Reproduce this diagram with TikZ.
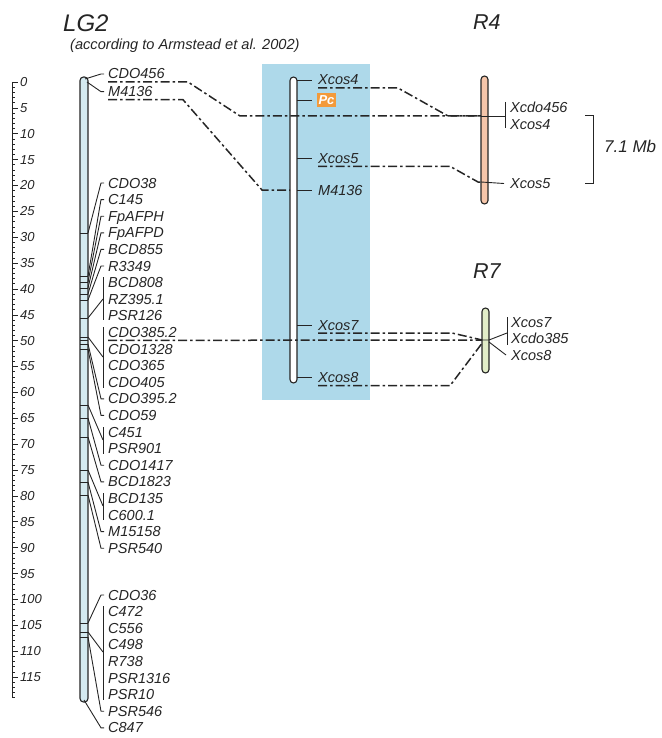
\documentclass[tikz,border=0pt]{standalone}
\usepackage{fontspec}
\setmainfont{Liberation Sans}
\usetikzlibrary{calc}
\definecolor{lc}{HTML}{252525}
\definecolor{boxblue}{HTML}{AED9EA}
\definecolor{lgfill}{HTML}{D4EAF0}
\definecolor{rfour}{HTML}{F6C6AA}
\definecolor{rseven}{HTML}{E2EDC8}
\definecolor{pcor}{HTML}{F39A3A}
\tikzset{
 lbl/.style={anchor=base west, inner sep=0pt, font=\fontsize{14.5}{16}\selectfont\itshape, text=lc},
 conn/.style={draw=lc, line width=0.9pt},
 dd/.style={draw=lc, line width=1.5pt, dash pattern=on 9pt off 3pt on 2.5pt off 3pt},
 chrom/.style={draw=lc, line width=1.1pt, rounded corners=3.5pt},
 num/.style={anchor=west, inner sep=0pt, font=\fontsize{13}{15}\selectfont\itshape, text=lc},
 ttl/.style={anchor=base west, inner sep=0pt, text=lc},
}
\newcommand{\lgsingle}[4]{%
  \node[lbl] (#1) at (108,#3) {#2};
  \coordinate (#1c) at (88,#4);
  \draw[conn] (#1c) -- ([shift={(-7pt,5pt)}]#1.base west) -- ([shift={(-4pt,5pt)}]#1.base west);
}
\newcommand{\lgplain}[3]{%
  \node[lbl] (#1) at (108,#3) {#2};
}
\newcommand{\lggroup}[5]{%
  \coordinate (#1c) at (88,#4);
  \coordinate (#1t) at (103,#2);
  \coordinate (#1b) at (103,#3);
  \coordinate (#1m) at (103,#5);
  \draw[conn] (#1t) -- (#1b);
  \draw[conn] (#1c) -- (#1m);
}
\begin{document}
\begin{tikzpicture}[x=1pt,y=-1pt]
\useasboundingbox (0,0) rectangle (661,738);
% background box
\fill[boxblue] (262,64) rectangle (370,400);
% titles
\node[ttl, font=\fontsize{24}{26}\selectfont\itshape] (tlg) at (63,31.7) {LG2};
\node[ttl, font=\fontsize{14.6}{16}\selectfont\itshape] (tsub) at (70,49.5) {(according to Armstead et al. 2002)};
\node[ttl, font=\fontsize{21.5}{24}\selectfont\itshape] (tr4) at (473,30) {R4};
\node[ttl, font=\fontsize{21.5}{24}\selectfont\itshape] (tr7) at (473,278) {R7};
% ruler
\draw[conn] (12,82) -- (12,697.7);
\foreach \i in {0,...,119}{
  \pgfmathsetmacro\yy{82+5.174*\i}
  \pgfmathsetmacro\tl{ifthenelse(mod(\i,5)==0,5.5,3)}
  \draw[conn, line width=0.6pt] (12,\yy) -- ++(\tl,0);
}
\foreach \i in {0,5,...,115}{
  \pgfmathsetmacro\yy{82+5.174*\i}
  \node[num] (s\i) at (20,\yy) {\i};
}
% LG2 chromosome
\draw[chrom, fill=lgfill] (80,77) rectangle (88,702);
\foreach \t in {233,276,282,288,294,300,318,337,340,344,349,405,418,437,470,482,495,623,632,637}{
  \draw[lc, line width=0.7pt] (80,\t) -- (88,\t);
}
% LG2 labels
\node[lbl] (cdo456) at (108,79) {CDO456};
\coordinate (cdo456c) at (85,79);
\draw[conn] (cdo456c) -- ([shift={(-7pt,5pt)}]cdo456.base west) -- ([shift={(-4pt,5pt)}]cdo456.base west);
\node[lbl] (m4136a) at (108,96.7) {M4136};
\coordinate (m4136ac) at (87,82);
\draw[conn] (m4136ac) -- ([shift={(-7pt,5pt)}]m4136a.base west) -- ([shift={(-4pt,5pt)}]m4136a.base west);
\lgsingle{cdo38}{CDO38}{188}{233}
\lgsingle{c145}{C145}{204.6}{276}
\lgsingle{fpafph}{FpAFPH}{221.2}{282}
\lgsingle{fpafpd}{FpAFPD}{237.8}{288}
\lgsingle{bcd855}{BCD855}{254.4}{294}
\lgsingle{r3349}{R3349}{271}{300}
\lgplain{bcd808}{BCD808}{287.6}
\lgplain{rz395}{RZ395.1}{304.2}
\lgplain{psr126}{PSR126}{320.8}
\lggroup{ga}{277}{320}{318}{299}
\lgplain{cdo385}{CDO385.2}{337.4}
\lgplain{cdo1328}{CDO1328}{354}
\lgplain{cdo365}{CDO365}{370.6}
\lgplain{cdo405}{CDO405}{387.2}
\lggroup{gb}{327}{388}{337}{357}
\lgsingle{cdo395}{CDO395.2}{403.8}{344}
\lgsingle{cdo59}{CDO59}{420.4}{349}
\lgplain{c451}{C451}{437}
\lgplain{psr901}{PSR901}{453.6}
\lggroup{gc}{427}{454}{405}{440}
\lgsingle{cdo1417}{CDO1417}{470.2}{418}
\lgsingle{bcd1823}{BCD1823}{486.8}{437}
\lgplain{bcd135}{BCD135}{503.4}
\lgplain{c600}{C600.1}{520}
\lggroup{gd}{493}{520}{470}{506}
\lgsingle{m15158}{M15158}{536.6}{482}
\lgsingle{psr540}{PSR540}{553.2}{495}
\lgsingle{cdo36}{CDO36}{600}{623}
\lgplain{c472}{C472}{616.6}
\lgplain{c556}{C556}{633.2}
\lgplain{c498}{C498}{649.8}
\lgplain{r738}{R738}{666.4}
\lgplain{psr1316}{PSR1316}{683}
\lgplain{psr10}{PSR10}{699.6}
\lggroup{ge}{606}{700}{632}{652}
\lgsingle{psr546}{PSR546}{716.2}{637}
\node[lbl] (c847) at (108,732.8) {C847};
\coordinate (c847c) at (84,700);
\draw[conn] (c847c) -- ([shift={(-7pt,5pt)}]c847.base west) -- ([shift={(-4pt,5pt)}]c847.base west);
% middle chromosome
\draw[chrom, fill=white] (290,77) rectangle (297,383);
\node[lbl] (xcos4m) at (318,85) {Xcos4};
\node[fill=pcor, text=white, inner sep=0pt, minimum width=19.5pt, minimum height=13.5pt, font=\fontsize{13}{15}\selectfont\bfseries\itshape] (pc) at (326.5,100) {Pc};
\node[lbl] (xcos5m) at (318,163.3) {Xcos5};
\node[lbl] (m4136m) at (318,195) {M4136};
\node[lbl] (xcos7m) at (318,330) {Xcos7};
\node[lbl] (xcos8m) at (318,382.7) {Xcos8};
\foreach \n in {xcos4m,xcos5m,m4136m,xcos7m,xcos8m}{
  \draw[conn] ([shift={(-21pt,5pt)}]\n.base west) -- ([shift={(-6pt,5pt)}]\n.base west);
}
\draw[conn] ([xshift=-20pt]pc.west) -- ([xshift=-5pt]pc.west);
% R4 chromosome
\draw[chrom, fill=rfour] (481,76) rectangle (488,204);
\node[lbl] (xcdo456r) at (510,113) {Xcdo456};
\node[lbl] (xcos4r) at (510,130) {Xcos4};
\node[lbl] (xcos5r) at (510,188.5) {Xcos5};
\coordinate (r4a) at (481,116);
\coordinate (r4b) at (481,182);
\draw[conn] (505,102) -- (505,128);
\draw[conn] (r4a) -- (505,116);
\draw[conn] (r4b) -- ([shift={(-6pt,5pt)}]xcos5r.base west);
% bracket
\draw[conn] (585,115) -- (593,115) -- (593,183) -- (585,183);
\node[ttl, font=\fontsize{17}{19}\selectfont\itshape] (mb) at (604,153) {7.1 Mb};
% R7 chromosome
\draw[chrom, fill=rseven] (482,308) rectangle (489,373);
\node[lbl] (xcos7r) at (511,327) {Xcos7};
\node[lbl] (xcdo385r) at (511,343.5) {Xcdo385};
\node[lbl] (xcos8r) at (511,360) {Xcos8};
\coordinate (r7a) at (482,340);
\coordinate (r7b) at (483,342);
\draw[conn] (507,317) -- (507,345);
\draw[conn] (r7a) -- (489,340) -- (507,333);
\draw[conn] (489,342) -- ([shift={(-5pt,5pt)}]xcos8r.base west);
% dash-dot connectors
\draw[dd] ([yshift=-3pt]cdo456.base west) -- (188,82) -- (240,116) -- (r4a);
\draw[dd] ([yshift=-3pt]m4136a.base west) -- (183,99.7) -- (262,190) -- (290,190);
\draw[dd] ([yshift=-3pt]cdo385.base west) -- (r7a);
\draw[dd] ([yshift=-3pt]xcos4m.base west) -- (398,88) -- (448,116) -- (r4a);
\draw[dd] ([yshift=-3pt]xcos5m.base west) -- (450,166.3) -- (478,182) -- (r4b);
\draw[dd] ([yshift=-3pt]xcos7m.base west) -- (452,333) -- (r7a);
\draw[dd] ([yshift=-3pt]xcos8m.base west) -- (450,385.7) -- (r7b);
\end{tikzpicture}
\end{document}
